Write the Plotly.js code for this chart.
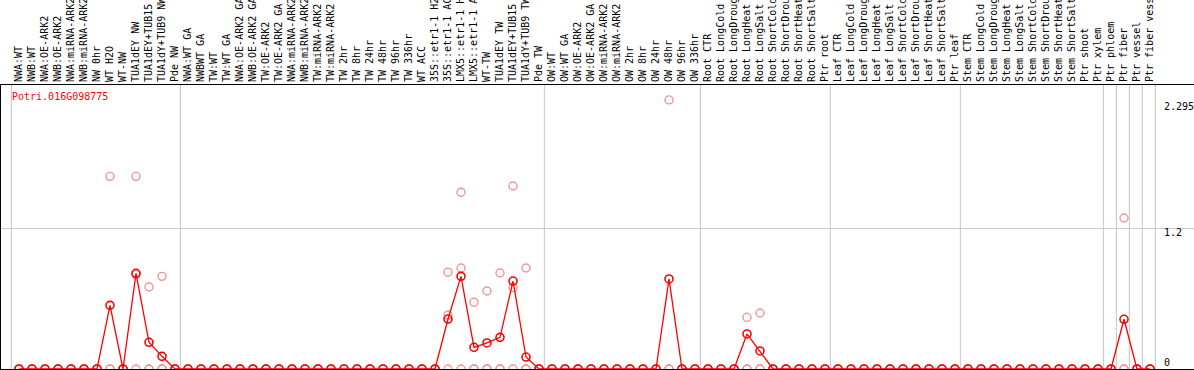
<!DOCTYPE html>
<html>
<head>
<meta charset="utf-8">
<script src="https://cdn.plot.ly/plotly-3.0.1.min.js"></script>
<style>html,body{margin:0;padding:0;background:#fff;}#chart{width:1194px;height:370px;}</style>
</head>
<body>
<div id="chart"></div>
<script>
const geneName = "Potri.016G098775";

const categories = [
  "NWA:WT","NWB:WT","NWA:OE-ARK2","NWB:OE-ARK2","NWA:miRNA-ARK2","NWB:miRNA-ARK2","NW 0hr","WT H2O","WT-NW","TUA1dEY NW","TUA1dEY+TUB15","TUA1dY+TUB9 NW","Pde NW",
  "NWA:WT GA","NWBWT GA","TW:WT","TW:WT GA","NWA:OE-ARK2 GA","NWB:OE-ARK2 GA","TW:OE-ARK2","TW:OE-ARK2 GA","NWA:miRNA-ARK2","NWB:miRNA-ARK2","TW:miRNA-ARK2","TW:miRNA-ARK2","TW 2hr","TW 8hr","TW 24hr","TW 48hr","TW 96hr","TW 336hr","WT ACC","35S::etr1-1 H2O","35S::etr1-1 ACC","LMX5::etr1-1 H2O","LMX5::etr1-1 ACC","WT-TW","TUA1dEY TW","TUA1dEY+TUB15 TW","TUA1dY+TUB9 TW","Pde TW",
  "OW:WT","OW:WT GA","OW:OE-ARK2","OW:OE-ARK2 GA","OW:miRNA-ARK2","OW:miRNA-ARK2","OW 2hr","OW 8hr","OW 24hr","OW 48hr","OW 96hr","OW 336hr",
  "Root CTR","Root LongCold","Root LongDrought","Root LongHeat","Root LongSalt","Root ShortCold","Root ShortDrought","Root ShortHeat","Root ShortSalt","Ptr root",
  "Leaf CTR","Leaf LongCold","Leaf LongDrought","Leaf LongHeat","Leaf LongSalt","Leaf ShortCold","Leaf ShortDrought","Leaf ShortHeat","Leaf ShortSalt","Ptr leaf",
  "Stem CTR","Stem LongCold","Stem LongDrought","Stem LongHeat","Stem LongSalt","Stem ShortCold","Stem ShortDrought","Stem ShortHeat","Stem ShortSalt","Ptr shoot","Ptr xylem",
  "Ptr phloem","Ptr fiber","Ptr vessel","Ptr fiber vessel"
];

// sizes of the column groups separated by vertical lines
const groupSizes = [13, 28, 12, 10, 10, 11, 1, 1, 1, 1];

// mean expression (red line)
const meanValues = [
  0,0,0,0,0,0,0,0.543,0,0.816,0.228,0.108,0,
  0,0,0,0,0,0,0,0,0,0,0,0,0,0,0,0,0,0,0,0,0.426,0.79,0.185,0.222,0.27,0.75,0.102,0,
  0,0,0,0,0,0,0,0,0,0.768,0,0,
  0,0,0,0.299,0.154,0,0,0,0,0,
  0,0,0,0,0,0,0,0,0,0,
  0,0,0,0,0,0,0,0,0,0,0,
  0,0.424,0,0
];

// replicate values (pale circles)
const rep1 = [
  0,0,0,0,0,0,0,1.643,0,1.643,0.699,0.79,0,
  0,0,0,0,0,0,0,0,0,0,0,0,0,0,0,0,0,0,0,0,0.825,1.507,0.569,0.665,0.819,1.561,0.861,0,
  0,0,0,0,0,0,0,0,0,2.295,0,0,
  0,0,0,0.44,0.478,0,0,0,0,0,
  0,0,0,0,0,0,0,0,0,0,
  0,0,0,0,0,0,0,0,0,0,0,
  0,1.288,0,0
];
const rep2 = [
  0,0,0,0,0,0,0,0,0,0.805,0,0,0,
  0,0,0,0,0,0,0,0,0,0,0,0,0,0,0,0,0,0,0,0,0.46,0.861,0,0,0,0.694,0,0,
  0,0,0,0,0,0,0,0,0,0,0,0,
  0,0,0,0,0,0,0,0,0,0,
  0,0,0,0,0,0,0,0,0,0,
  0,0,0,0,0,0,0,0,0,0,0,
  0,0,0,0
];
const rep3 = [
  0,0,0,0,0,0,0,0,0,0,0,0,0,
  0,0,0,0,0,0,0,0,0,0,0,0,0,0,0,0,0,0,0,0,0,0,0,0,0,0,0,0,
  0,0,0,0,0,0,0,0,0,0,0,0,
  0,0,0,0,0,0,0,0,0,0,
  0,0,0,0,0,0,0,0,0,0,
  0,0,0,0,0,0,0,0,0,0,0,
  0,0,0,0
];

const yTickVals = [0, 1.2, 2.295];
const yTickText = ["0", "1.2", "2.295"];

// ---------- drawing ----------
const idx = categories.map((_, i) => i + 1);
const mono = "DejaVu Sans Mono, monospace";

const repX = [].concat(idx, idx, idx);
const repY = [].concat(rep1, rep2, rep3);

const traces = [
  {
    x: repX, y: repY, type: "scatter", mode: "markers", hoverinfo: "skip",
    marker: {symbol: "circle-open", size: 8, color: "rgb(238,150,150)", line: {width: 1.4}}
  },
  {
    x: idx, y: meanValues, type: "scatter", mode: "lines+markers",
    line: {color: "#ff0000", width: 1.3},
    marker: {symbol: "circle-open", size: 8, color: "#ff0000", line: {width: 1.6}}
  }
];

const DIV_OFFSET = 0.41;
const shapes = [];
let b = 0;
shapes.push({type: "line", xref: "x", yref: "paper", x0: b + DIV_OFFSET, x1: b + DIV_OFFSET, y0: 0, y1: 1,
             line: {color: "#c4c4c4", width: 1}, layer: "below"});
groupSizes.forEach(g => {
  b += g;
  shapes.push({type: "line", xref: "x", yref: "paper", x0: b + DIV_OFFSET, x1: b + DIV_OFFSET, y0: 0, y1: 1,
               line: {color: "#c4c4c4", width: 1}, layer: "below"});
});

const yShifts = [7, -4, -7];
const annotations = yTickVals.map((v, i) => ({
  xref: "paper", yref: "y", x: 0.9735, y: v, xanchor: "left", yanchor: "middle",
  yshift: yShifts[i], text: yTickText[i], showarrow: false,
  font: {family: mono, size: 10, color: "#000"}
}));
annotations.push({
  xref: "paper", yref: "paper", x: 0.0075, y: 0.958, xanchor: "left", yanchor: "middle",
  text: geneName, showarrow: false, font: {family: mono, size: 10, color: "#ff0000"}
});

const layout = {
  width: 1194, height: 370,
  margin: {l: 1, r: 0, t: 85, b: 1, pad: 0},
  paper_bgcolor: "#fff", plot_bgcolor: "#fff",
  showlegend: false,
  font: {family: mono, size: 10, color: "#000"},
  xaxis: {
    side: "top", range: [-0.385, 91.385], tickmode: "array", tickvals: idx, ticktext: categories,
    tickangle: -90, ticks: "", showgrid: false, zeroline: false,
    showline: true, mirror: true, linecolor: "#000", linewidth: 1,
    tickfont: {family: mono, size: 10, color: "#000"}, automargin: false
  },
  yaxis: {
    range: [0, 2.422], tickmode: "array", tickvals: [1.2], showticklabels: false, ticks: "",
    showgrid: true, gridcolor: "#c8c8c8", gridwidth: 1, zeroline: false,
    showline: true, linecolor: "#000", linewidth: 1, automargin: false
  },
  shapes: shapes,
  annotations: annotations
};

Plotly.newPlot("chart", traces, layout, {displayModeBar: false, staticPlot: true});
</script>
</body>
</html>
